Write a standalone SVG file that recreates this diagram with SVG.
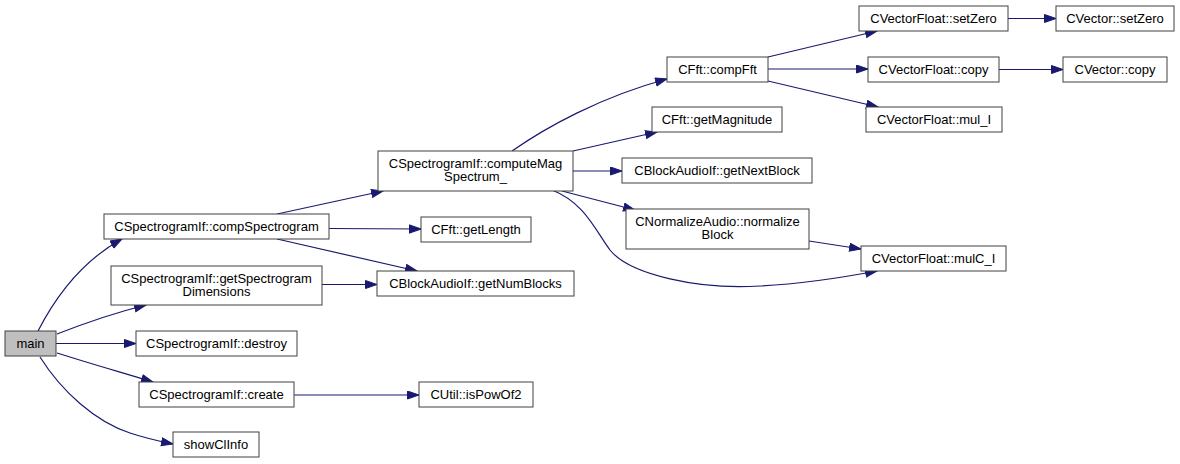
<svg xmlns="http://www.w3.org/2000/svg" width="1180" height="464" viewBox="0 0 1180 464">
<defs>
<marker id="ah" markerUnits="userSpaceOnUse" markerWidth="13" markerHeight="10" refX="12" refY="4.5" orient="auto">
<path d="M0.5,0.5 L12,4.5 L0.5,8.5 z" fill="#191970" stroke="#191970" stroke-width="1"/>
</marker>
<style>
.n rect{fill:#ffffff;stroke:#404040;stroke-width:1}
.n text{font-family:"Liberation Sans",Arial,sans-serif;font-size:13px;fill:#000;text-anchor:middle}
#main rect{fill:#bfbfbf}
.e path{fill:none;stroke:#191970;stroke-width:1.2;marker-end:url(#ah)}
</style>
</defs>
<rect width="1180" height="464" fill="#ffffff"/>
<g id="connectors" class="e">
<path d="M38,331 C55,298 80,262 122,239"/>
<path d="M57,334 C80,325 110,314 146,305"/>
<path d="M56,343.5 L136,343.5"/>
<path d="M57,353 C85,362 120,372 153,382"/>
<path d="M40,357 C62,392 96,422 130,433 C145,438 158,441 173,444"/>
<path d="M277,214 L383,191"/>
<path d="M329,228.5 L421,229"/>
<path d="M277,239 L417,271"/>
<path d="M322,284.5 L377,284.5"/>
<path d="M294,395 L419,395"/>
<path d="M512,151 C545,128 600,97 667,79"/>
<path d="M573,151 L657,132"/>
<path d="M573,171 L622,171"/>
<path d="M562,191 L635,210"/>
<path d="M552,190 C585,203 595,230 610,250 C630,275 700,290 760,286 C800,284 840,278 877,271"/>
<path d="M809,241 L861,249"/>
<path d="M768,57 L877,31"/>
<path d="M768,69 L868,69"/>
<path d="M768,81 L878,107"/>
<path d="M1008,18.5 L1056,18.5"/>
<path d="M999,69.5 L1063,69.5"/>
</g>
<g id="main" class="n"><rect x="5" y="331" width="51" height="25"/><text x="30.5" y="348">main</text></g>
<g id="compSpectrogram" class="n"><rect x="104" y="214" width="225" height="25"/><text x="216.5" y="231">CSpectrogramIf::compSpectrogram</text></g>
<g id="getSpectrogramDimensions" class="n"><rect x="111" y="266" width="211" height="39"/><text x="216.5" y="282.5">CSpectrogramIf::getSpectrogram</text><text x="216.5" y="295.5">Dimensions</text></g>
<g id="destroy" class="n"><rect x="136" y="331" width="161" height="25"/><text x="216.5" y="348">CSpectrogramIf::destroy</text></g>
<g id="create" class="n"><rect x="139" y="382" width="155" height="25"/><text x="216.5" y="399">CSpectrogramIf::create</text></g>
<g id="showClInfo" class="n"><rect x="173" y="432" width="86" height="25"/><text x="216" y="449">showClInfo</text></g>
<g id="computeMagSpectrum" class="n"><rect x="378" y="151" width="195" height="40"/><text x="475.5" y="167.5">CSpectrogramIf::computeMag</text><text x="475.5" y="180.5">Spectrum_</text></g>
<g id="getLength" class="n"><rect x="421" y="217" width="110" height="25"/><text x="476" y="234">CFft::getLength</text></g>
<g id="getNumBlocks" class="n"><rect x="377" y="271" width="197" height="25"/><text x="475.5" y="288">CBlockAudioIf::getNumBlocks</text></g>
<g id="isPowOf2" class="n"><rect x="419" y="382" width="114" height="25"/><text x="476" y="399">CUtil::isPowOf2</text></g>
<g id="compFft" class="n"><rect x="667" y="57" width="101" height="25"/><text x="717.5" y="74">CFft::compFft</text></g>
<g id="getMagnitude" class="n"><rect x="652" y="107" width="130" height="25"/><text x="717" y="124">CFft::getMagnitude</text></g>
<g id="getNextBlock" class="n"><rect x="622" y="158" width="190" height="25"/><text x="717" y="175">CBlockAudioIf::getNextBlock</text></g>
<g id="normalizeBlock" class="n"><rect x="626" y="209" width="183" height="40"/><text x="717.5" y="225.5">CNormalizeAudio::normalize</text><text x="717.5" y="238.5">Block</text></g>
<g id="vfSetZero" class="n"><rect x="859" y="6" width="149" height="25"/><text x="933.5" y="23">CVectorFloat::setZero</text></g>
<g id="vSetZero" class="n"><rect x="1056" y="6" width="118" height="25"/><text x="1115" y="23">CVector::setZero</text></g>
<g id="vfCopy" class="n"><rect x="868" y="57" width="131" height="25"/><text x="933.5" y="74">CVectorFloat::copy</text></g>
<g id="vCopy" class="n"><rect x="1063" y="57" width="104" height="25"/><text x="1115" y="74">CVector::copy</text></g>
<g id="mulI" class="n"><rect x="866" y="107" width="136" height="25"/><text x="934" y="124">CVectorFloat::mul_I</text></g>
<g id="mulCI" class="n"><rect x="861" y="246" width="145" height="25"/><text x="933.5" y="263">CVectorFloat::mulC_I</text></g>
</svg>
